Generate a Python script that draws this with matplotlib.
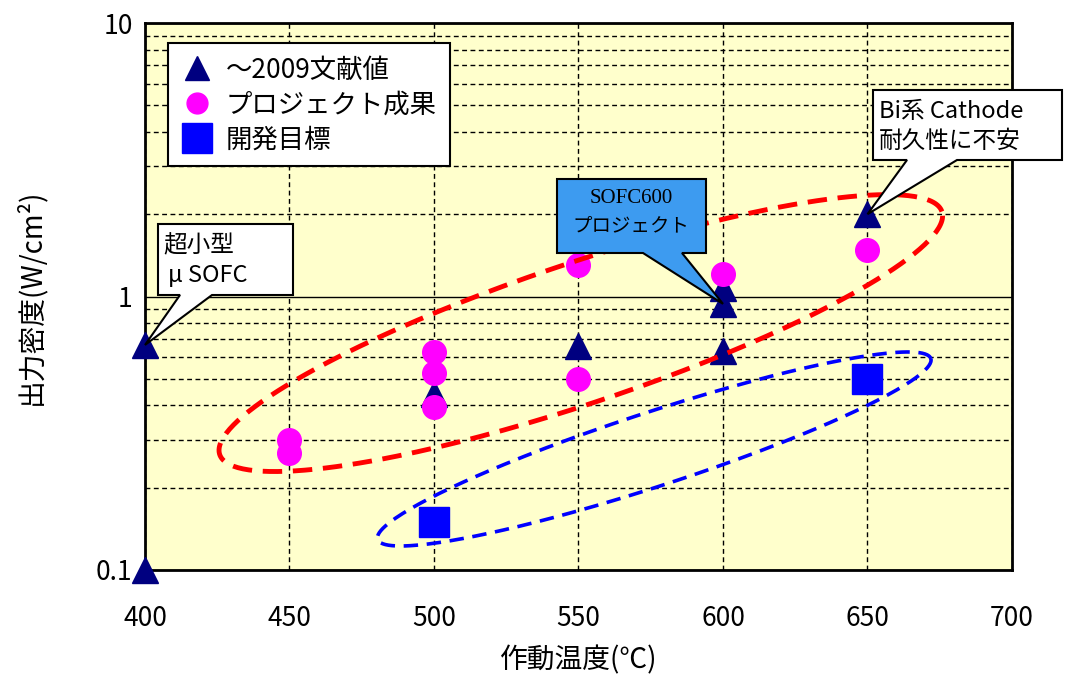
import numpy as np
import matplotlib
matplotlib.use("Agg")
import matplotlib.pyplot as plt
from matplotlib.lines import Line2D
from matplotlib.patches import Polygon
from matplotlib.transforms import IdentityTransform
from matplotlib.ticker import NullFormatter

plt.rcParams['font.family'] = ['Noto Sans CJK JP', 'DejaVu Sans']

# data (temperature in degC, power density in W/cm2)
lit_temp = [400, 400, 500, 550, 600, 600, 600, 650]
lit_val = [0.665, 0.1, 0.44, 0.66, 1.07, 0.94, 0.63, 2.0]
proj_temp = [450, 450, 500, 500, 500, 550, 550, 600, 650]
proj_val = [0.30, 0.268, 0.627, 0.525, 0.395, 1.30, 0.50, 1.21, 1.48]
goal_temp = [500, 650]
goal_val = [0.15, 0.5]

legend_labels = ['〜2009文献値', 'プロジェクト成果', '開発目標']
xticks = [400, 450, 500, 550, 600, 650, 700]
yticks = [0.1, 1, 10]
ytick_labels = ['0.1', '1', '10']

W, H = 1070, 674
fig = plt.figure(figsize=(W / 100, H / 100), dpi=100)
ax = fig.add_axes([145 / W, 1 - 570 / H, (1012 - 145) / W, (570 - 23) / H])
ax.set_facecolor('#FFFFCC')

ax.set_yscale('log')
ax.set_xlim(400, 700)
ax.set_ylim(0.1, 10)
ax.set_xticks(xticks)
ax.set_xticklabels([str(t) for t in xticks])
ax.set_yticks(yticks)
ax.set_yticklabels(ytick_labels)
ax.yaxis.set_minor_formatter(NullFormatter())
ax.tick_params(axis='both', which='both', length=0, labelsize=19)
ax.tick_params(axis='x', pad=25)
ax.tick_params(axis='y', pad=9)
for s in ax.spines.values():
    s.set_linewidth(2)
    s.set_color('black')

ax.set_axisbelow(True)
ax.xaxis.grid(True, which='major', color='black', lw=1, ls=(0, (3.5, 2.5)))
ax.yaxis.grid(True, which='minor', color='black', lw=1, ls=(0, (3.5, 2.5)))
ax.yaxis.grid(True, which='major', color='black', lw=1, ls='-')

ax.set_xlabel('作動温度(℃)', fontsize=20, labelpad=10)
ax.set_ylabel('出力密度(W/cm²)', fontsize=20, labelpad=36)

ax.plot(lit_temp, lit_val, ls='none', marker='^', ms=19, color='#000080', zorder=3, clip_on=False)
ax.plot(proj_temp, proj_val, ls='none', marker='o', ms=17, color='#FF00FF', mec='#FF00FF', zorder=4, clip_on=False)
ax.plot(goal_temp, goal_val, ls='none', marker='s', ms=21, color='#0000FF', zorder=4, clip_on=False)


def ellipse(center, a, b, ang, **kw):
    cx, cy = ax.transData.transform(center)
    t = np.linspace(0, 2 * np.pi, 300)
    th = np.radians(ang)
    xs = cx + a * np.cos(t) * np.cos(th) - b * np.sin(t) * np.sin(th)
    ys = cy + a * np.cos(t) * np.sin(th) + b * np.sin(t) * np.cos(th)
    pts = ax.transData.inverted().transform(np.column_stack([xs, ys]))
    ax.plot(pts[:, 0], pts[:, 1], zorder=5, clip_on=False, **kw)


ellipse((550.8, 0.735), 381, 70, 18.6, color='#FF0000', lw=3.5, ls=(0, (4, 2.2)))
ellipse((576.2, 0.277), 291, 37, 18.1, color='#0000FF', lw=2.6, ls=(0, (4, 2.4)))


def callout(box, base, tip, face):
    x0, y0, x1, y1 = box
    tx, ty = ax.transData.transform(tip)
    pts = [(x0, H - y0), (x1, H - y0), (x1, H - y1), (base[1], H - y1), (tx, ty),
           (base[0], H - y1), (x0, H - y1)]
    fig.add_artist(Polygon(pts, closed=True, transform=IdentityTransform(),
                           facecolor=face, edgecolor='black', lw=1.5, zorder=6))


callout((158, 224, 293, 295), (180, 212), (400, 0.665), 'white')
fig.text(163 / W, 1 - 246 / H, '超小型', fontsize=17, va='center', ha='left', zorder=7)
fig.text(168 / W, 1 - 275 / H, 'μ SOFC', fontsize=17, va='center', ha='left', zorder=7)

callout((557, 179, 706, 253), (643, 682), (600, 0.94), '#3D9BF0')
fig.text(631 / W, 1 - 199 / H, 'SOFC600', fontsize=15, va='center', ha='center', zorder=7,
         family=['Liberation Serif', 'Noto Sans CJK JP'])
fig.text(631 / W, 1 - 226 / H, 'プロジェクト', fontsize=14, va='center', ha='center', zorder=7)

callout((873, 90, 1062, 160), (907, 957), (650, 2.0), 'white')
fig.text(879 / W, 1 - 111 / H, 'Bi系 Cathode', fontsize=17, va='center', ha='left', zorder=7)
fig.text(879 / W, 1 - 141 / H, '耐久性に不安', fontsize=17, va='center', ha='left', zorder=7)

handles = [Line2D([], [], ls='none', marker='^', ms=17, color='#000080'),
           Line2D([], [], ls='none', marker='o', ms=15, color='#FF00FF'),
           Line2D([], [], ls='none', marker='s', ms=21, color='#0000FF')]
leg = ax.legend(handles, legend_labels, loc='upper left', bbox_to_anchor=(0.0265, 0.963),
                borderaxespad=0, fontsize=19, fancybox=False, framealpha=1, edgecolor='black',
                handlelength=1.2, handletextpad=0.5, labelspacing=0.3, borderpad=0.5)
leg.get_frame().set_linewidth(1.5)
leg.set_zorder(8)

fig.savefig('out.png', dpi=100)
